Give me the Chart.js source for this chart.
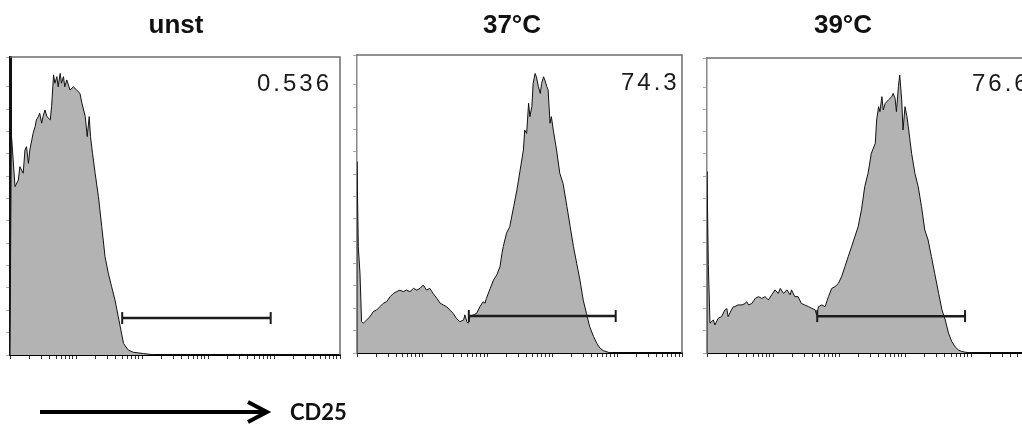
<!DOCTYPE html>
<html>
<head>
<meta charset="utf-8">
<script src="https://cdn.jsdelivr.net/npm/chart.js@4/dist/chart.umd.min.js"></script>
<style>
html,body{margin:0;padding:0;background:#fff;overflow:hidden;width:1022px;height:431px;position:relative;}
canvas{position:absolute;left:0;top:0;pointer-events:none;}
svg{position:absolute;left:0;top:0;}
</style>
</head>
<body>
<canvas id="c1" width="1022" height="431" style="width:1022px;height:431px"></canvas>
<canvas id="c2" width="1022" height="431" style="width:1022px;height:431px"></canvas>
<canvas id="c3" width="1060" height="431" style="width:1060px;height:431px"></canvas>
<svg id="txt" width="1022" height="431" xmlns="http://www.w3.org/2000/svg"></svg>
<script>
// ---- data (x = log10 CD25 intensity, y = % of max count) ----
const panelTitles = ['unst', '37°C', '39°C'];
const gatePercents = ['0.536', '74.3', '76.6'];
const axisLabel = 'CD25';

const unstX = [0,0.02,0.076,0.126,0.15,0.20,0.227,0.25,0.28,0.30,0.33,0.35,0.38,0.40,0.43,0.45,0.48,0.50,0.53,0.56,0.61,0.63,0.66,0.68,0.71,0.73,0.76,0.78,0.81,0.83,0.86,0.91,0.96,1.01,1.06,1.09,1.14,1.17,1.20,1.22,1.25,1.29,1.34,1.39,1.44,1.49,1.54,1.59,1.64,1.68,1.72,1.79,1.87,2.02,2.20,5.0];
const unstY = [0,74.4,56.5,58.7,63.2,61.0,68.8,69.9,64.3,68.8,72.1,74.4,76.6,78.9,80.0,81.1,77.8,80.0,82.2,80.0,78.9,83.3,94.0,91.2,93.4,90.0,94.5,91.2,93.4,90.0,92.3,88.9,90.0,88.9,87.8,84.5,80.0,73.3,80.0,73.3,67.7,61.0,53.1,43.1,33.0,27.4,22.9,18.5,12.9,8.4,3.9,1.7,0.9,0.5,0,0];

const c37X = [0,0.0,0.02,0.046,0.07,0.097,0.149,0.20,0.25,0.30,0.35,0.405,0.456,0.51,0.56,0.61,0.66,0.71,0.76,0.815,0.87,0.92,0.97,1.02,1.07,1.12,1.17,1.23,1.28,1.33,1.38,1.43,1.48,1.53,1.58,1.64,1.66,1.69,1.71,1.74,1.79,1.84,1.89,1.94,1.97,1.99,2.05,2.10,2.15,2.20,2.23,2.25,2.30,2.35,2.41,2.46,2.51,2.56,2.58,2.61,2.64,2.66,2.69,2.71,2.74,2.76,2.79,2.82,2.84,2.87,2.89,2.92,2.94,2.97,2.99,3.02,3.07,3.12,3.17,3.23,3.28,3.33,3.38,3.43,3.48,3.53,3.58,3.64,3.69,3.74,3.79,3.87,3.94,5.0];
const c37Y = [0,64.2,35.7,26.7,10.6,10.0,11.1,12.2,13.9,14.4,15.5,16.7,17.2,18.9,20.0,20.6,21.1,20.6,21.1,20.6,21.7,21.1,21.7,22.8,21.1,21.7,20.0,18.3,16.7,16.1,15.5,14.4,13.3,11.6,10.5,11.1,12.8,10.5,10.0,12.2,12.8,13.3,15.5,17.2,16.7,18.3,21.7,24.5,26.2,29.0,33.4,35.7,40.2,42.4,49.1,54.7,61.4,68.1,74.8,73.7,83.8,79.3,82.7,90.5,93.8,92.7,89.4,87.1,90.5,92.7,91.6,89.4,88.3,77.1,79.3,74.8,68.1,60.3,56.9,49.1,42.4,35.7,30.1,24.5,17.8,13.3,8.8,5.5,3.2,1.6,0.8,0.2,0,0];

const c39X = [0,0.0,0.02,0.045,0.096,0.12,0.17,0.22,0.27,0.30,0.32,0.37,0.40,0.42,0.47,0.53,0.58,0.60,0.63,0.68,0.73,0.78,0.83,0.88,0.93,0.98,1.03,1.08,1.11,1.16,1.21,1.26,1.28,1.33,1.38,1.43,1.48,1.54,1.59,1.64,1.66,1.69,1.74,1.79,1.84,1.89,1.94,1.99,2.04,2.09,2.14,2.19,2.24,2.29,2.34,2.39,2.44,2.49,2.55,2.57,2.60,2.62,2.65,2.67,2.70,2.75,2.80,2.82,2.85,2.87,2.90,2.92,2.95,2.97,3.00,3.03,3.05,3.10,3.15,3.20,3.25,3.30,3.35,3.40,3.45,3.51,3.56,3.61,3.66,3.71,3.76,3.81,3.86,3.96,4.06,5.0];
const c39Y = [0,61.5,30,10.1,11.2,9.5,11.8,12.3,14.6,15.1,12.3,14.6,15.7,15.7,16.3,16.3,16.8,17.4,16.3,16.8,18.5,19.1,18.5,19.1,18.0,19.7,21.4,20.2,21.9,20.2,21.4,19.7,21.4,19.1,19.1,16.8,16.3,15.7,15.1,14.6,12.9,15.7,16.3,15.7,19.1,21.9,22.5,23.6,25.9,29.3,32.7,36.0,39.4,42.8,48.5,56.4,60.9,67.7,71.1,79.0,83.5,81.8,86.9,82.4,84.6,85.8,86.9,88.0,86.3,81.8,90.3,94.2,85.8,75.6,83.5,80.1,76.7,67.7,60.9,56.4,49.6,41.7,38.3,32.7,27.0,20.2,14.6,11.2,6.7,3.8,2.1,1.0,0.5,0.1,0,0];

const gateStart = [1.70, 1.72, 1.67];
const gateEnd   = [3.95, 3.98, 3.91];
const gateLevel = [12.4, 12.4, 12.5];

// ---- layout / styling ----
const panels = [
  {id:'c1', xs:unstX, ys:unstY, pad:{left:6, right:682, top:57, bottom:72}, leftColor:'#111', leftWidth:3},
  {id:'c2', xs:c37X,  ys:c37Y,  pad:{left:353, right:340, top:55, bottom:74}, leftColor:'#888', leftWidth:1.5},
  {id:'c3', xs:c39X,  ys:c39Y,  pad:{left:703, right:23, top:58, bottom:74}, leftColor:'#888', leftWidth:1.5}
];

// log-decade minor tick positions (0..5 decades)
const xTickPos = [];
for (let d = 0; d < 5; d++) for (let m = 1; m <= 9; m++) xTickPos.push(d + Math.log10(m));
xTickPos.push(5);

const framePlugin = {
  id: 'frame',
  afterDraw(chart) {
    const a = chart.chartArea, ctx = chart.ctx;
    ctx.save();
    ctx.strokeStyle = '#6e6e6e';
    ctx.lineWidth = 1.5;
    ctx.beginPath();
    ctx.moveTo(a.left, a.top); ctx.lineTo(a.right, a.top); ctx.lineTo(a.right, a.bottom);
    ctx.stroke();
    ctx.restore();
  }
};

panels.forEach((p, i) => {
  new Chart(document.getElementById(p.id), {
    type: 'line',
    data: {
      datasets: [
        {
          data: [{x: gateStart[i], y: gateLevel[i]}, {x: gateEnd[i], y: gateLevel[i]}],
          borderColor: '#1c1c1c', borderWidth: 2.5, fill: false,
          pointStyle: 'line', rotation: 90, pointRadius: 6, pointBorderWidth: 2,
          pointBorderColor: '#1c1c1c', order: 0
        },
        {
          data: p.xs.map((x, k) => ({x: x, y: p.ys[k]})),
          borderColor: '#111', borderWidth: 1, backgroundColor: '#b3b3b3',
          fill: 'origin', pointRadius: 0, tension: 0, order: 1
        }
      ]
    },
    options: {
      responsive: false, animation: false, devicePixelRatio: 1,
      layout: {padding: p.pad},
      plugins: {legend: {display: false}, tooltip: {enabled: false}, title: {display: false}},
      scales: {
        x: {
          type: 'linear', min: 0, max: 5,
          afterBuildTicks: s => { s.ticks = xTickPos.map(v => ({value: v})); },
          ticks: {display: false},
          grid: {drawOnChartArea: false, drawTicks: true, tickLength: 4, color: '#333', lineWidth: 1},
          border: {display: true, color: '#000', width: 2}
        },
        y: {
          min: 0, max: 100,
          ticks: {display: false, stepSize: 7.5},
          grid: {drawOnChartArea: false, drawTicks: true, tickLength: 4, color: '#aaa', lineWidth: 1},
          border: {display: true, color: p.leftColor, width: p.leftWidth}
        }
      }
    },
    plugins: [framePlugin]
  });
});

// ---- text overlay ----
const NS = 'http://www.w3.org/2000/svg';
const svg = document.getElementById('txt');
function addText(str, x, y, attrs) {
  const t = document.createElementNS(NS, 'text');
  t.setAttribute('x', x); t.setAttribute('y', y);
  for (const k in attrs) t.setAttribute(k, attrs[k]);
  t.textContent = str;
  svg.appendChild(t);
}
const titlePos = [[176, 33], [512, 33], [843, 33]];
panelTitles.forEach((s, i) => addText(s, titlePos[i][0], titlePos[i][1],
  {'text-anchor': 'middle', 'font-family': 'Liberation Sans, Arial, sans-serif', 'font-weight': 'bold', 'font-size': '26', fill: '#111'}));
const pctPos = [[257, 91], [621, 90], [972, 91]];
gatePercents.forEach((s, i) => addText(s, pctPos[i][0], pctPos[i][1],
  {'font-family': 'Liberation Sans, Arial, sans-serif', 'font-size': '24', 'letter-spacing': '3', fill: '#1a1a1a'}));
addText(axisLabel, 290, 420, {'font-family': 'Lato, sans-serif', 'font-weight': 'bold', 'font-size': '22', fill: '#111'});

const ln = document.createElementNS(NS, 'line');
ln.setAttribute('x1', 40); ln.setAttribute('y1', 412); ln.setAttribute('x2', 265); ln.setAttribute('y2', 412);
ln.setAttribute('stroke', '#000'); ln.setAttribute('stroke-width', 4);
svg.appendChild(ln);
const hd = document.createElementNS(NS, 'polyline');
hd.setAttribute('points', '248,402 267,412 248,422');
hd.setAttribute('fill', 'none'); hd.setAttribute('stroke', '#000'); hd.setAttribute('stroke-width', 4);
svg.appendChild(hd);
</script>
</body>
</html>
